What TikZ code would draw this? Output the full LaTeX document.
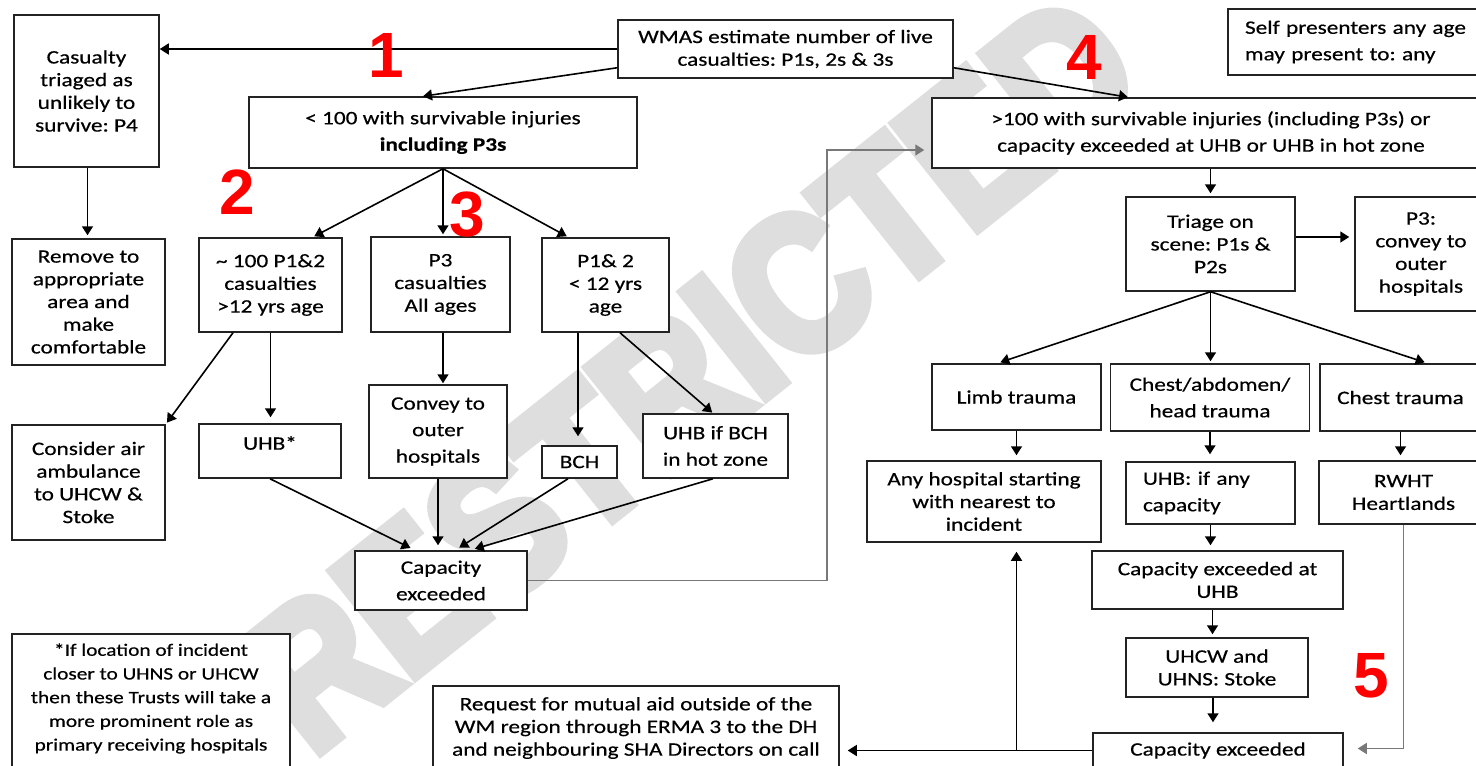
\documentclass[tikz,border=0pt]{standalone}
\usepackage{graphicx}
\usepackage{fontspec}
\setmainfont{Carlito}[FakeStretch=1.225, FakeBold=0.5]
\newfontfamily\numfont{Liberation Sans}
\newfontfamily\wmfont{Liberation Sans Bold}[FakeBold=6]
\usetikzlibrary{arrows.meta,calc}
\definecolor{wm}{RGB}{222,222,222}
\definecolor{boxline}{RGB}{35,35,35}
\definecolor{conn}{RGB}{120,120,120}
\frenchspacing
\begin{document}
\begin{tikzpicture}[x=1pt,y=-1pt,
  box/.style={draw=boxline, line width=1.5pt, fill=white, inner sep=0pt, align=center,
              font=\fontsize{19}{22.7}\selectfont},
  wide/.style={font=\fontsize{19}{26.5}\selectfont},
  txt/.style={inner sep=0pt, align=center, font=\fontsize{19}{22.7}\selectfont},
  arr/.style={draw=black, line width=1.6pt, -{Triangle[length=9pt,width=11pt]}},
  garr/.style={draw=conn, line width=1.6pt, -{Triangle[length=9pt,width=11pt]}},
  num/.style={text=red, inner sep=0pt, font=\numfont\bfseries\fontsize{64}{64}\selectfont}
]
\useasboundingbox (0,0) rectangle (1476,766);
\clip (0,0) rectangle (1476,766);

% watermark
\node[rotate=38.5, text=wm, inner sep=0pt] (wmk) at (690,372)
  {\wmfont\fontsize{168}{168}\selectfont\scalebox{1}[1.15]{RESTRICTED}};

% boxes
\node[box, minimum width=145, minimum height=152] (p4) at (86.5,91) {Casualty\\triaged as\\unlikely to\\survive: P4};
\node[box, minimum width=153, minimum height=126] (remove) at (88.5,302) {Remove to\\appropriate\\area and\\make\\comfortable};
\node[box, minimum width=335, minimum height=58] (wmas) at (785.5,49) {WMAS estimate number of live\\casualties: P1s, 2s \& 3s};
\node[box, wide, minimum width=388, minimum height=71] (lt100) at (443,132.5) {< 100 with survivable injuries\\\textbf{including P3s}};
\node[box, wide, minimum width=558, minimum height=70] (gt100) at (1211,133) {>100 with survivable injuries (including P3s) or\\capacity exceeded at UHB or UHB in hot zone};
\node[box, wide, align=left, text width=230, inner xsep=17pt, minimum height=66] (self) at (1360,42) {Self presenters any age\\may present to: any};
\node[box, minimum width=169, minimum height=94] (triage) at (1210.5,244) {Triage on\\scene: P1s \&\\P2s};
\node[box, minimum width=132, minimum height=114] (p3conv) at (1421,254) {P3:\\convey to\\outer\\hospitals};
\node[box, minimum width=143, minimum height=94] (tilde) at (270.5,285) {\textasciitilde\ 100 P1\&2\\casualties\\>12 yrs age};
\node[box, minimum width=139, minimum height=95] (p3cas) at (440.5,284.5) {P3\\casualties\\All ages};
\node[box, minimum width=127, minimum height=94] (p12) at (605.5,285) {P1\& 2\\< 12 yrs\\age};
\node[box, minimum width=153, minimum height=115] (air) at (88.5,482.5) {Consider air\\ambulance\\to UHCW \&\\Stoke};
\node[box, minimum width=142, minimum height=54] (uhbs) at (270,451) {};
\node[txt] (uhbs-t) at (270,443) {UHB*};
\node[box, wide, minimum width=138, minimum height=93] (convey) at (438,431.5) {Convey to\\outer\\hospitals};
\node[box, minimum width=75, minimum height=32] (bch) at (579.5,462) {BCH};
\node[box, wide, minimum width=145, minimum height=64] (uhbbch) at (715.5,446) {UHB if BCH\\in hot zone};
\node[box, wide, minimum width=172, minimum height=59] (capl) at (441,580.5) {Capacity\\exceeded};
\node[box, minimum width=169, minimum height=66] (limb) at (1016.5,397) {Limb trauma};
\node[box, wide, minimum width=199, minimum height=67] (chab) at (1210,397.5) {Chest/abdomen/\\head trauma};
\node[box, minimum width=161, minimum height=67] (chtr) at (1400.5,397.5) {Chest trauma};
\node[box, minimum width=234, minimum height=81] (anyh) at (984,501.5) {Any hospital starting\\with nearest to\\incident};
\node[box, wide, align=left, text width=135, inner xsep=17pt, minimum height=62] (uhbif) at (1210.5,493) {UHB: if any\\capacity};
\node[box, minimum width=169, minimum height=63] (rwht) at (1403.5,492.5) {RWHT\\Heartlands};
\node[box, minimum width=251, minimum height=58] (capuhb) at (1217.5,580) {Capacity exceeded at\\UHB};
\node[box, minimum width=182, minimum height=59] (uhcw) at (1217,667.5) {UHCW and\\UHNS: Stoke};
\node[box, minimum width=250, minimum height=35] (bcap) at (1218,750.5) {Capacity exceeded};
\node[box, minimum width=278, minimum height=146] (foot) at (151,707) {};
\node[txt, font=\fontsize{17.4}{23.7}\selectfont] (foot-t) at (151,698.5) {*If location of incident\\closer to UHNS or UHCW\\then these Trusts will take a\\more prominent role as\\primary receiving hospitals};
\node[box, minimum width=406, minimum height=84] (request) at (636,728) {Request for mutual aid outside of the\\WM region through ERMA 3 to the DH\\and neighbouring SHA Directors on call};

% connectors
\draw[arr] (wmas.west) -- (wmas.west -| p4.east);
\draw[arr] ([yshift=11pt]wmas.south west) -- ([xshift=-20pt]lt100.north);
\draw[arr] ([yshift=11pt]wmas.south east) -- ([xshift=-83pt]gt100.north);
\draw[arr, shorten >=3pt] ([xshift=1pt]p4.south) -- ([xshift=1pt]p4.south |- remove.north);
\draw[arr, shorten >=2pt] (lt100.south) -- ([xshift=42pt]tilde.north);
\draw[arr, shorten >=2pt] (lt100.south) -- (lt100.south |- p3cas.north);
\draw[arr, shorten >=2pt] (lt100.south) -- ([xshift=-37pt]p12.north);
\draw[arr, shorten >=2pt] ([xshift=-37.5pt]tilde.south) -- (air.north east);
\draw[arr, shorten >=6pt] (tilde.south) -- (tilde.south |- uhbs.north);
\draw[arr, shorten >=1pt] ([xshift=2.5pt]p3cas.south) -- ([xshift=2.5pt]p3cas.south |- convey.north);
\draw[arr, shorten >=9pt] ([xshift=-27.5pt]p12.south) -- ([xshift=-27.5pt]p12.south |- bch.north);
\draw[arr, shorten >=1pt] ([xshift=14.5pt]p12.south) -- ([xshift=-2.5pt]uhbbch.north);
\draw[arr, shorten >=5pt] (uhbs.south) -- ([xshift=-26pt]capl.north);
\draw[arr, shorten >=5pt] (convey.south) -- (convey.south |- capl.north);
\draw[arr, shorten >=5pt] ([xshift=-11.5pt]bch.south) -- ([xshift=14pt]capl.north);
\draw[arr, shorten >=5pt] ([xshift=-2.5pt]uhbbch.south) -- ([xshift=29pt]capl.north);
\coordinate (bend) at (827,150);
\draw[garr, shorten >=7pt] (capl.east) -| (bend) -- (bend -| gt100.west);
\draw[arr, shorten >=3pt] (gt100.south -| triage.north) -- (triage.north);
\draw[arr, shorten >=5pt] ([yshift=7pt]triage.east) -- ([yshift=7pt]triage.east -| p3conv.west);
\draw[arr, shorten >=3pt] (triage.south) -- ([xshift=-19pt]limb.north);
\draw[arr, shorten >=2pt] (triage.south) -- (triage.south |- chab.north);
\draw[arr, shorten >=3pt] (triage.south) -- ([xshift=27pt]chtr.north);
\draw[arr, shorten >=5pt] (limb.south) -- (limb.south |- anyh.north);
\draw[arr, shorten >=7pt] (chab.south) -- (chab.south |- uhbif.north);
\draw[arr, shorten >=5pt] (chtr.south) -- (chtr.south |- rwht.north);
\draw[arr, shorten >=5pt] (uhbif.south) -- (uhbif.south |- capuhb.north);
\draw[arr, shorten >=3pt] ([xshift=-5pt]capuhb.south) -- ([xshift=-5pt]capuhb.south |- uhcw.north);
\draw[arr, shorten >=10pt] ([xshift=-4pt]uhcw.south) -- ([xshift=-4pt]uhcw.south |- bcap.north);
\draw[arr, shorten >=8pt] (bcap.west) -- (bcap.west -| request.east);
\coordinate (junc) at (limb.south |- bcap.west);
\draw[arr, shorten >=9pt] (junc) -- (junc |- anyh.south);
\draw[garr, shorten >=14pt] (rwht.south) |- ([yshift=2pt]bcap.east);

% red numbers
\node[num] (n1) at (386,55.5) {1};
\node[num] (n2) at (237.5,192.5) {2};
\node[num] (n3) at (467.5,214.5) {3};
\node[num] (n4) at (1084,57.5) {4};
\node[num] (n5) at (1371.5,676) {5};
\end{tikzpicture}
\end{document}
